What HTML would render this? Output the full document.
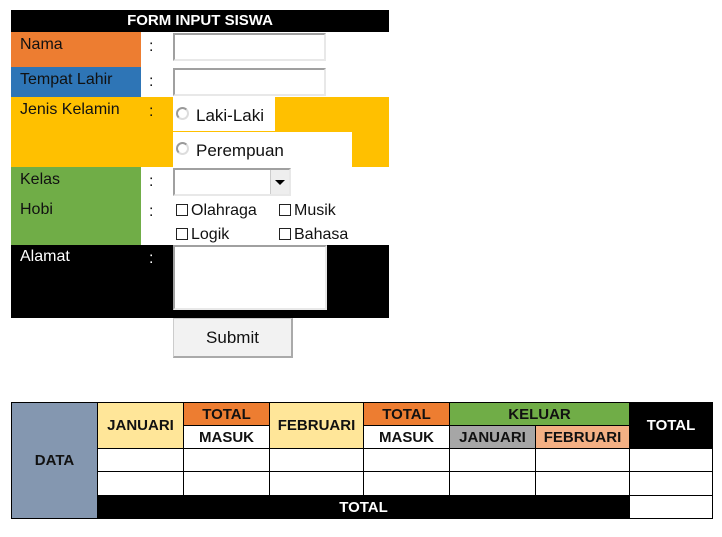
<!DOCTYPE html>
<html><head><meta charset="utf-8"><style>
body{margin:0;width:722px;height:537px;background:#fff;position:relative;overflow:hidden;font-family:"Liberation Sans",sans-serif;}
div{position:absolute;box-sizing:border-box;}
.t{font-size:16px;color:#111;}
.in{background:#fff;border:2px solid #a0a0a0;border-right-color:#e8e8e8;border-bottom-color:#e8e8e8;}
.cb{width:12px;height:12px;border:1px solid #222;background:#fff;}
.rd{width:13px;height:13px;border-radius:50%;border:2px solid #9a9a9a;border-right-color:#ddd;border-bottom-color:#ddd;background:#fff;}
.c{font-weight:bold;font-size:15px;display:flex;align-items:center;justify-content:center;color:#111;border:1px solid #000;}
</style></head><body>
<div style="left:11px;top:10px;width:378px;height:22px;background:#000;color:#fff;font-weight:bold;font-size:15px;text-align:center;line-height:22px">FORM INPUT SISWA</div>
<div style="left:11px;top:32px;width:130px;height:35px;background:#ed7d31"></div>
<div class="t" style="left:20px;top:36px">Nama</div>
<div class="t" style="left:149px;top:38px">:</div>
<div class="in" style="left:173px;top:33px;width:153px;height:28px"></div>
<div style="left:11px;top:67px;width:130px;height:30px;background:#2e75b6"></div>
<div class="t" style="left:20px;top:71px">Tempat Lahir</div>
<div class="t" style="left:149px;top:73px">:</div>
<div class="in" style="left:173px;top:68px;width:153px;height:28px"></div>
<div style="left:11px;top:97px;width:378px;height:70px;background:#ffc000"></div>
<div style="left:173px;top:97px;width:102px;height:34px;background:#fff"></div>
<div style="left:173px;top:132px;width:179px;height:35px;background:#fff"></div>
<div class="t" style="left:20px;top:101px">Jenis Kelamin</div>
<div class="t" style="left:149px;top:103px">:</div>
<div class="rd" style="left:176px;top:107px"></div>
<div class="t" style="left:196px;top:106px;font-size:17px">Laki-Laki</div>
<div class="rd" style="left:176px;top:142px"></div>
<div class="t" style="left:196px;top:141px;font-size:17px">Perempuan</div>
<div style="left:11px;top:167px;width:130px;height:78px;background:#70ad47"></div>
<div class="t" style="left:20px;top:171px">Kelas</div>
<div class="t" style="left:149px;top:173px">:</div>
<div class="in" style="left:173px;top:168px;width:118px;height:28px"></div>
<div style="left:270px;top:170px;width:19px;height:24px;background:#eee;border-left:1px solid #ccc"></div>
<div style="left:275px;top:180px;width:0;height:0;border-left:5px solid transparent;border-right:5px solid transparent;border-top:5px solid #000"></div>
<div class="t" style="left:20px;top:201px">Hobi</div>
<div class="t" style="left:149px;top:203px">:</div>
<div class="cb" style="left:176px;top:204px"></div>
<div class="t" style="left:191px;top:202px">Olahraga</div>
<div class="cb" style="left:279px;top:204px"></div>
<div class="t" style="left:294px;top:202px">Musik</div>
<div class="cb" style="left:176px;top:228px"></div>
<div class="t" style="left:191px;top:226px">Logik</div>
<div class="cb" style="left:279px;top:228px"></div>
<div class="t" style="left:294px;top:226px">Bahasa</div>
<div style="left:11px;top:245px;width:378px;height:73px;background:#000"></div>
<div class="t" style="left:20px;top:248px;color:#fff">Alamat</div>
<div class="t" style="left:149px;top:250px;color:#fff">:</div>
<div class="in" style="left:173px;top:245px;width:154px;height:65px"></div>
<div style="left:173px;top:318px;width:120px;height:40px;background:#f2f2f2;border:1px solid #ccc;border-right:2px solid #aaa;border-bottom:2px solid #aaa;font-size:17px;text-align:center;line-height:38px;color:#111">Submit</div>
<div style="left:11px;top:402px;width:702px;height:117px;border:1px solid #000"></div>
<div class="c" style="left:11px;top:402px;width:87px;height:117px;background:#8497b0">DATA</div>
<div class="c" style="left:97px;top:402px;width:87px;height:47px;background:#ffe699">JANUARI</div>
<div class="c" style="left:183px;top:402px;width:87px;height:24px;background:#ed7d31">TOTAL</div>
<div class="c" style="left:183px;top:425px;width:87px;height:24px;background:#fff">MASUK</div>
<div class="c" style="left:269px;top:402px;width:95px;height:47px;background:#ffe699">FEBRUARI</div>
<div class="c" style="left:363px;top:402px;width:87px;height:24px;background:#ed7d31">TOTAL</div>
<div class="c" style="left:363px;top:425px;width:87px;height:24px;background:#fff">MASUK</div>
<div class="c" style="left:449px;top:402px;width:181px;height:24px;background:#70ad47">KELUAR</div>
<div class="c" style="left:449px;top:425px;width:87px;height:24px;background:#a6a6a6">JANUARI</div>
<div class="c" style="left:535px;top:425px;width:95px;height:24px;background:#f4b084">FEBRUARI</div>
<div class="c" style="left:629px;top:402px;width:84px;height:47px;background:#000;color:#fff">TOTAL</div>
<div class="c" style="left:97px;top:448px;width:87px;height:24px"></div>
<div class="c" style="left:183px;top:448px;width:87px;height:24px"></div>
<div class="c" style="left:269px;top:448px;width:95px;height:24px"></div>
<div class="c" style="left:363px;top:448px;width:87px;height:24px"></div>
<div class="c" style="left:449px;top:448px;width:87px;height:24px"></div>
<div class="c" style="left:535px;top:448px;width:95px;height:24px"></div>
<div class="c" style="left:629px;top:448px;width:84px;height:24px"></div>
<div class="c" style="left:97px;top:471px;width:87px;height:25px"></div>
<div class="c" style="left:183px;top:471px;width:87px;height:25px"></div>
<div class="c" style="left:269px;top:471px;width:95px;height:25px"></div>
<div class="c" style="left:363px;top:471px;width:87px;height:25px"></div>
<div class="c" style="left:449px;top:471px;width:87px;height:25px"></div>
<div class="c" style="left:535px;top:471px;width:95px;height:25px"></div>
<div class="c" style="left:629px;top:471px;width:84px;height:25px"></div>
<div class="c" style="left:97px;top:495px;width:533px;height:24px;background:#000;color:#fff">TOTAL</div>
<div class="c" style="left:629px;top:495px;width:84px;height:24px"></div>
</body></html>
